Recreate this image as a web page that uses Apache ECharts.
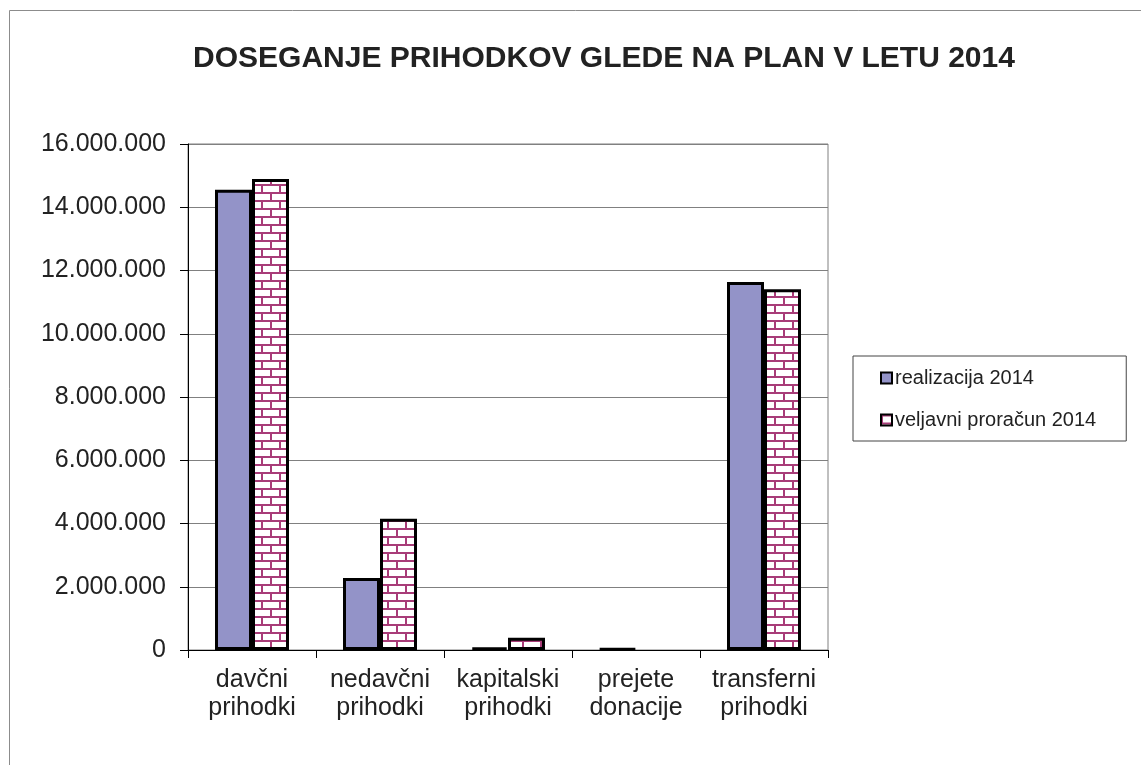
<!DOCTYPE html>
<html>
<head>
<meta charset="utf-8">
<script src="https://cdn.jsdelivr.net/npm/echarts@6/dist/echarts.min.js"></script>
<style>
  html, body { margin: 0; padding: 0; background: #fff; }
  #chart-container { width: 1141px; height: 765px; }
</style>
</head>
<body>
<div id="chart-container"></div>
<script>
// Data
var categories = ['davčni\nprihodki', 'nedavčni\nprihodki', 'kapitalski\nprihodki', 'prejete\ndonacije', 'transferni\nprihodki'];
var realizacija = [14550000, 2280000, 80000, 40000, 11640000];
var veljavni = [14890000, 4150000, 390000, null, 11410000];
var seriesNames = ['realizacija 2014', 'veljavni proračun 2014'];

// brick pattern for the second series
function brickPattern() {
	var c = document.createElement('canvas');
	c.width = 18;
	c.height = 16;
	var ctx = c.getContext('2d');
	ctx.fillStyle = '#ffffff';
	ctx.fillRect(0, 0, 18, 16);
	ctx.fillStyle = '#a83c78';
	ctx.fillRect(0, 0, 18, 2);
	ctx.fillRect(0, 8, 18, 2);
	ctx.fillRect(0, 0, 2, 8);
	ctx.fillRect(9, 8, 2, 8);
	return c;
}

function fmt(v) {
	return String(v).replace(/\B(?=(\d{3})+(?!\d))/g, '.');
}

var dom = document.getElementById('chart-container');
var myChart = echarts.init(dom, null, { renderer: 'canvas' });

var option = {
	animation: false,
	backgroundColor: '#fff',
	textStyle: {
		fontFamily: 'Liberation Sans, Arial, sans-serif',
		color: '#222'
	},
	graphic: [{
		type: 'rect',
		shape: { x: 9.5, y: 10.5, width: 1200, height: 800 },
		style: { fill: 'none', stroke: '#8c8c8c', lineWidth: 1 },
		silent: true
	}],
	title: {
		text: 'DOSEGANJE PRIHODKOV GLEDE NA PLAN V LETU 2014',
		left: 599,
		top: 39,
		textAlign: 'center',
		textStyle: {
			fontSize: 30,
			fontWeight: 'bold',
			color: '#222'
		}
	},
	legend: {
		orient: 'vertical',
		left: 853,
		top: 356,
		padding: [12, 30, 11, 27],
		itemGap: 22,
		itemWidth: 11,
		itemHeight: 11,
		icon: 'rect',
		borderColor: '#444',
		borderWidth: 1,
		itemStyle: { borderColor: '#000', borderWidth: 2 },
		textStyle: { fontSize: 20, color: '#222', padding: [0, 0, 0, -2] },
		data: seriesNames
	},
	grid: {
		left: 188,
		right: 313,
		top: 144,
		bottom: 115,
		show: true,
		borderColor: '#808080',
		borderWidth: 1
	},
	xAxis: {
		type: 'category',
		data: categories,
		axisLine: { lineStyle: { color: '#000', width: 1 } },
		axisTick: { show: true, length: 8, lineStyle: { color: '#000' } },
		axisLabel: {
			interval: 0,
			fontSize: 25,
			lineHeight: 28,
			margin: 16,
			color: '#222'
		}
	},
	yAxis: {
		type: 'value',
		min: 0,
		max: 16000000,
		interval: 2000000,
		axisLine: { show: true, lineStyle: { color: '#000', width: 1 } },
		axisTick: { show: true, length: 8, lineStyle: { color: '#000' } },
		splitLine: { lineStyle: { color: '#808080', width: 1 } },
		axisLabel: {
			fontSize: 25,
			margin: 22,
			color: '#222',
			formatter: fmt
		}
	},
	series: [
		{
			name: seriesNames[0],
			type: 'bar',
			barWidth: 37,
			barGap: '0%',
			itemStyle: {
				color: '#9393c8',
				borderColor: '#000',
				borderWidth: 3
			},
			data: realizacija
		},
		{
			name: seriesNames[1],
			type: 'bar',
			barWidth: 37,
			barGap: '0%',
			itemStyle: {
				color: { image: brickPattern(), repeat: 'repeat' },
				borderColor: '#000',
				borderWidth: 3
			},
			data: veljavni
		}
	]
};

myChart.setOption(option);
window.addEventListener('resize', myChart.resize);
</script>
</body>
</html>
